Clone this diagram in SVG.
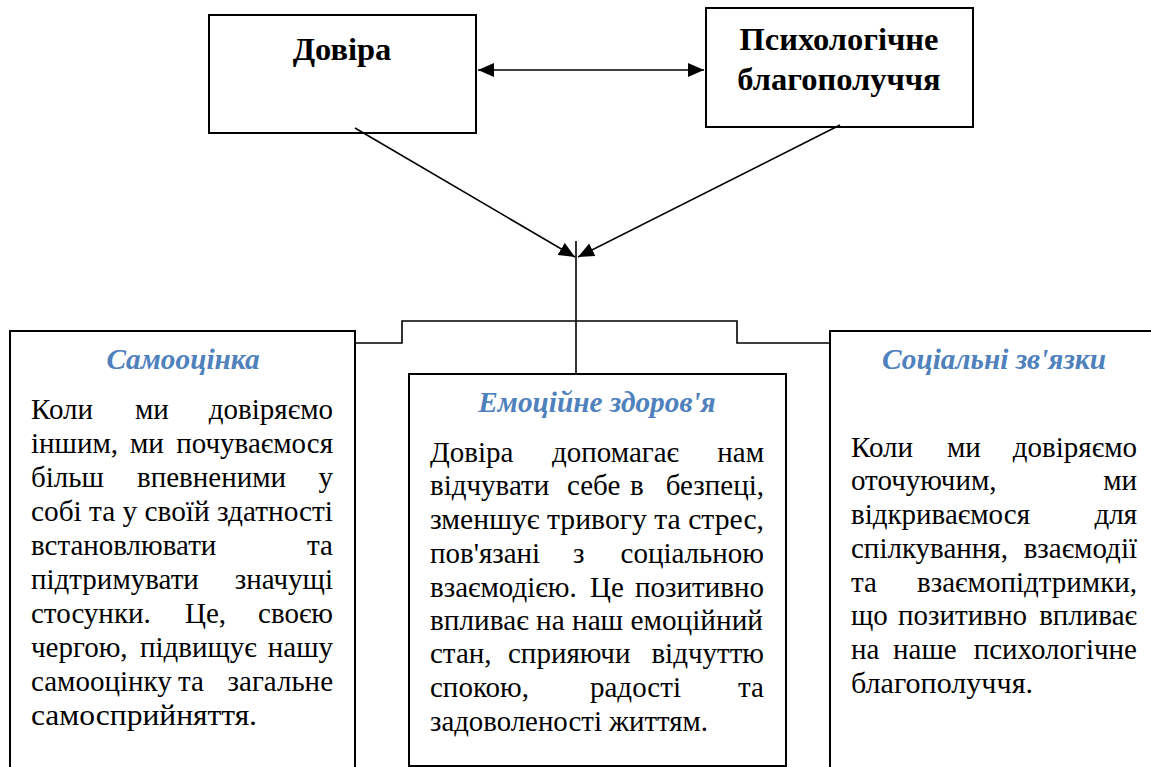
<svg xmlns="http://www.w3.org/2000/svg" width="1151" height="767" viewBox="0 0 1151 767">
<style>
  .box { fill: #fff; stroke: #000; stroke-width: 2; }
  .ln { fill: none; stroke: #000; stroke-width: 1.6; }
  .hd { font-family: "Liberation Serif", "DejaVu Serif Condensed", serif; font-weight: bold; font-size: 32.5px; fill: #000; text-anchor: middle; }
  .ti { font-family: "Liberation Serif", "DejaVu Serif Condensed", serif; font-weight: bold; font-style: italic; font-size: 29.3px; fill: #4F81BD; text-anchor: middle; }
  .tx { font-family: "Liberation Serif", "DejaVu Serif Condensed", serif; font-size: 29px; fill: #000; }
  .e { text-anchor: end; }
</style>
<defs>
  <marker id="ah" markerUnits="userSpaceOnUse" markerWidth="18" markerHeight="14" refX="16" refY="7" orient="auto-start-reverse">
    <path d="M0,0 L16,7 L0,14 Z" fill="#000"/>
  </marker>
</defs>
<rect width="1151" height="767" fill="#fff"/>

<g id="node-dovira">
  <rect class="box" x="209" y="15" width="267" height="118"/>
  <text class="hd" x="342" y="60">Довіра</text>
</g>

<g id="node-blagopoluchchia">
  <rect class="box" x="706" y="8" width="267" height="119"/>
  <text class="hd" x="839" y="50">Психологічне</text>
  <text class="hd" x="839" y="90">благополуччя</text>
</g>

<g id="node-samootsinka">
  <rect class="box" x="10" y="331" width="345" height="460"/>
  <text class="ti" x="183" y="369">Самооцінка</text>
  <text class="tx" y="419"><tspan x="31">Коли</tspan><tspan x="135">ми</tspan><tspan class="e" x="333">довіряємо</tspan></text>
  <text class="tx" y="453"><tspan x="31">іншим,</tspan><tspan x="130">ми</tspan><tspan class="e" x="333">почуваємося</tspan></text>
  <text class="tx" y="487"><tspan x="31">більш</tspan><tspan x="137">впевненими</tspan><tspan class="e" x="333">у</tspan></text>
  <text class="tx" x="31" y="521" textLength="302" lengthAdjust="spacingAndGlyphs">собі та у своїй здатності</text>
  <text class="tx" y="555"><tspan x="31">встановлювати</tspan><tspan class="e" x="333">та</tspan></text>
  <text class="tx" y="589"><tspan x="31">підтримувати</tspan><tspan class="e" x="333">значущі</tspan></text>
  <text class="tx" y="623"><tspan x="31">стосунки.</tspan><tspan x="185">Це,</tspan><tspan class="e" x="333">своєю</tspan></text>
  <text class="tx" y="657"><tspan x="31">чергою,</tspan><tspan x="140">підвищує</tspan><tspan class="e" x="333">нашу</tspan></text>
  <text class="tx" y="691"><tspan x="31">самооцінку</tspan><tspan x="178">та</tspan><tspan class="e" x="333">загальне</tspan></text>
  <text class="tx" x="31" y="725" textLength="226" lengthAdjust="spacingAndGlyphs">самосприйняття.</text>
</g>

<g id="node-emotsiine-zdorovia">
  <rect class="box" x="409" y="374" width="377" height="392"/>
  <text class="ti" x="597" y="412">Емоційне здоров'я</text>
  <text class="tx" y="462"><tspan x="430">Довіра</tspan><tspan x="552">допомагає</tspan><tspan class="e" x="764">нам</tspan></text>
  <text class="tx" y="495"><tspan x="430">відчувати</tspan><tspan x="567">себе</tspan><tspan x="630">в</tspan><tspan class="e" x="764">безпеці,</tspan></text>
  <text class="tx" x="430" y="529" textLength="334" lengthAdjust="spacingAndGlyphs">зменшує тривогу та стрес,</text>
  <text class="tx" y="563"><tspan x="430">пов'язані</tspan><tspan x="573">з</tspan><tspan class="e" x="764">соціальною</tspan></text>
  <text class="tx" y="597"><tspan x="430">взаємодією.</tspan><tspan x="590">Це</tspan><tspan class="e" x="764">позитивно</tspan></text>
  <text class="tx" x="430" y="630" textLength="333" lengthAdjust="spacingAndGlyphs">впливає на наш емоційний</text>
  <text class="tx" y="663"><tspan x="430">стан,</tspan><tspan x="508">сприяючи</tspan><tspan class="e" x="764">відчуттю</tspan></text>
  <text class="tx" y="697"><tspan x="430">спокою,</tspan><tspan x="590">радості</tspan><tspan class="e" x="764">та</tspan></text>
  <text class="tx" x="430" y="731" textLength="278" lengthAdjust="spacingAndGlyphs">задоволеності життям.</text>
</g>

<g id="node-sotsialni-zviazky">
  <rect class="box" x="830" y="331" width="340" height="460"/>
  <text class="ti" x="994" y="369">Соціальні зв'язки</text>
  <text class="tx" y="457"><tspan x="851">Коли</tspan><tspan x="947">ми</tspan><tspan class="e" x="1137">довіряємо</tspan></text>
  <text class="tx" y="490"><tspan x="851">оточуючим,</tspan><tspan class="e" x="1137">ми</tspan></text>
  <text class="tx" y="524"><tspan x="851">відкриваємося</tspan><tspan class="e" x="1137">для</tspan></text>
  <text class="tx" y="558"><tspan x="851">спілкування,</tspan><tspan class="e" x="1137">взаємодії</tspan></text>
  <text class="tx" y="592"><tspan x="851">та</tspan><tspan class="e" x="1137">взаємопідтримки,</tspan></text>
  <text class="tx" y="625"><tspan x="851">що</tspan><tspan x="898">позитивно</tspan><tspan class="e" x="1137">впливає</tspan></text>
  <text class="tx" y="659"><tspan x="851">на</tspan><tspan x="893">наше</tspan><tspan class="e" x="1137">психологічне</tspan></text>
  <text class="tx" x="851" y="693" textLength="182" lengthAdjust="spacingAndGlyphs">благополуччя.</text>
</g>

<g id="connectors">
  <line class="ln" x1="478" y1="70" x2="704" y2="70" marker-start="url(#ah)" marker-end="url(#ah)"/>
  <line class="ln" x1="355" y1="128" x2="575" y2="257" marker-end="url(#ah)"/>
  <line class="ln" x1="840" y1="125" x2="578" y2="257" marker-end="url(#ah)"/>
  <line class="ln" x1="576" y1="241" x2="576" y2="374"/>
  <path class="ln" d="M355,343 H402 V321 H737 V343 H830" stroke-width="2"/>
</g>
</svg>
